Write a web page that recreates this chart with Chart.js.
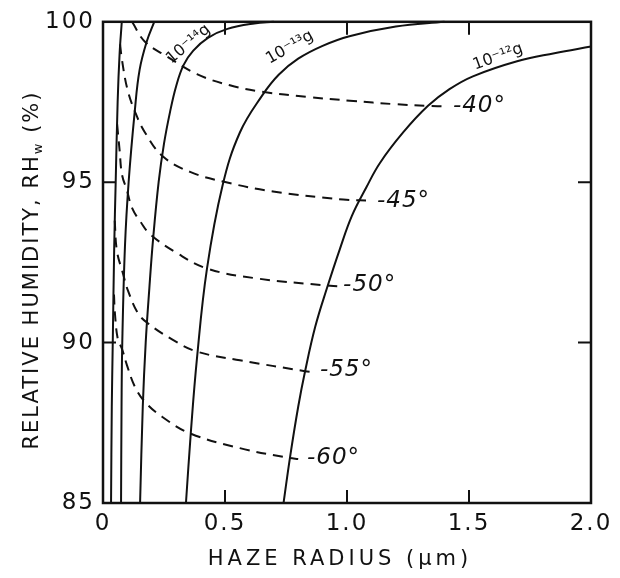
<!DOCTYPE html>
<html>
<head>
<meta charset="utf-8">
<script src="https://cdn.jsdelivr.net/npm/chart.js@4.4.1/dist/chart.umd.min.js"></script>
<style>
  html, body { margin: 0; padding: 0; background: #fff; }
</style>
</head>
<body>
<canvas id="grafico" width="620" height="578"></canvas>
<script>
// ejes
const xTicks = [0, 0.5, 1.0, 1.5, 2.0]
const yTicks = [85, 90, 95, 100]

// curvas de masa (línea continua), radio en µm vs HR %
const m16x = [0.033, 0.036, 0.040, 0.046, 0.052, 0.060, 0.068, 0.077]
const m16y = [85, 88, 90, 93, 95, 97.5, 99, 100]
const m15x = [0.074, 0.076, 0.079, 0.090, 0.105, 0.130, 0.150, 0.180, 0.210]
const m15y = [85, 88, 90, 93, 95, 97.2, 98.5, 99.4, 100]
const m14x = [0.152, 0.163, 0.175, 0.190, 0.205, 0.228, 0.250, 0.275, 0.300, 0.330, 0.370, 0.430, 0.510, 0.620, 0.700]
const m14y = [85, 88, 90, 91.7, 93.2, 95, 96.2, 97.2, 98.0, 98.65, 99.1, 99.5, 99.78, 99.95, 100]
const m13x = [0.34, 0.36, 0.385, 0.426, 0.49, 0.561, 0.652, 0.72, 0.80, 0.90, 1.01, 1.2, 1.4]
const m13y = [85, 87.2, 89.5, 92.3, 94.9, 96.55, 97.7, 98.35, 98.85, 99.25, 99.55, 99.85, 100]
const m12x = [0.74, 0.766, 0.80, 0.828, 0.87, 0.918, 0.97, 1.02, 1.08, 1.135, 1.23, 1.332, 1.42, 1.516, 1.697, 1.85, 2.0]
const m12y = [85, 86.4, 88, 89.1, 90.5, 91.7, 92.9, 93.95, 94.85, 95.6, 96.55, 97.38, 97.9, 98.3, 98.77, 99.02, 99.23]

// isotermas (línea discontinua)
const t40x = [0.119, 0.172, 0.262, 0.385, 0.52, 0.652, 0.836, 1.012, 1.2, 1.332, 1.41]
const t40y = [100, 99.38, 98.92, 98.37, 98.02, 97.82, 97.66, 97.54, 97.43, 97.38, 97.36]
const t45x = [0.07, 0.078, 0.10, 0.131, 0.172, 0.246, 0.357, 0.492, 0.697, 0.984, 1.09]
const t45y = [99.3, 98.8, 97.9, 97.2, 96.55, 95.8, 95.32, 95.02, 94.71, 94.46, 94.43]
const t50x = [0.058, 0.068, 0.078, 0.098, 0.119, 0.155, 0.193, 0.295, 0.426, 0.631, 0.918, 0.96]
const t50y = [96.8, 96.0, 95.23, 94.75, 94.2, 93.75, 93.38, 92.83, 92.31, 92.0, 91.78, 91.76]
const t55x = [0.048, 0.057, 0.082, 0.102, 0.143, 0.184, 0.283, 0.385, 0.561, 0.828, 0.86]
const t55y = [93.8, 92.86, 92.15, 91.63, 90.92, 90.6, 90.1, 89.72, 89.45, 89.11, 89.08]
const t60x = [0.045, 0.049, 0.061, 0.078, 0.098, 0.131, 0.172, 0.242, 0.357, 0.561, 0.766, 0.80]
const t60y = [91.5, 90.9, 90.1, 89.8, 89.3, 88.62, 88.15, 87.69, 87.17, 86.71, 86.4, 86.37]

// etiquetas
const tempLabels = ['-40°', '-45°', '-50°', '-55°', '-60°']
const tempLabelX = [1.434, 1.123, 0.984, 0.889, 0.836]
const tempLabelY = [97.38, 94.42, 91.78, 89.14, 86.4]
const massLabels = ['10⁻¹⁴g', '10⁻¹³g', '10⁻¹²g']
const massLabelX = [0.35, 0.766, 1.619]
const massLabelY = [99.3, 99.2, 98.9]
const massLabelRot = [-40, -30, -20]

const FONT = '"DejaVu Sans", sans-serif'

function puntos(xs, ys) {
    return xs.map((x, i) => ({ x: x, y: ys[i] }))
}

function serie(xs, ys, dashed) {
    return {
        data: puntos(xs, ys),
        borderColor: '#111',
        borderWidth: 2,
        borderDash: dashed ? [10, 7] : [],
        pointRadius: 0,
        fill: false,
        tension: 0.4
    }
}

// marco, marcas hacia dentro, títulos y etiquetas
const extras = {
    id: 'extras',
    beforeDraw(chart) {
        chart.ctx.letterSpacing = '2px'
    },
    afterDatasetsDraw(chart) {
        const ctx = chart.ctx
        const a = chart.chartArea
        const sx = chart.scales.x
        const sy = chart.scales.y
        ctx.save()
        ctx.letterSpacing = '0px'
        ctx.strokeStyle = '#111'
        ctx.lineWidth = 2.5
        ctx.setLineDash([])
        ctx.strokeRect(a.left, a.top, a.right - a.left, a.bottom - a.top)

        ctx.lineWidth = 2
        const len = 13
        xTicks.slice(1, -1).forEach(v => {
            const px = sx.getPixelForValue(v)
            ctx.beginPath()
            ctx.moveTo(px, a.bottom); ctx.lineTo(px, a.bottom - len)
            ctx.moveTo(px, a.top); ctx.lineTo(px, a.top + len)
            ctx.stroke()
        })
        yTicks.slice(1, -1).forEach(v => {
            const py = sy.getPixelForValue(v)
            ctx.beginPath()
            ctx.moveTo(a.left, py); ctx.lineTo(a.left + len, py)
            ctx.moveTo(a.right, py); ctx.lineTo(a.right - len, py)
            ctx.stroke()
        })

        // etiquetas de temperatura
        ctx.fillStyle = '#111'
        ctx.font = 'italic 23px ' + FONT
        ctx.textAlign = 'left'
        ctx.textBaseline = 'middle'
        ctx.letterSpacing = '1px'
        tempLabels.forEach((t, i) => {
            const px = sx.getPixelForValue(tempLabelX[i])
            const py = sy.getPixelForValue(tempLabelY[i])
            ctx.fillStyle = '#fff'
            ctx.fillRect(px - 2, py - 12, ctx.measureText(t).width + 4, 24)
            ctx.fillStyle = '#111'
            ctx.fillText(t, px, py)
        })

        // etiquetas de masa
        ctx.font = '16px ' + FONT
        ctx.textAlign = 'center'
        ctx.letterSpacing = '0px'
        massLabels.forEach((t, i) => {
            const px = sx.getPixelForValue(massLabelX[i])
            const py = sy.getPixelForValue(massLabelY[i])
            ctx.save()
            ctx.translate(px, py)
            ctx.rotate(massLabelRot[i] * Math.PI / 180)
            ctx.fillText(t, 0, 0)
            ctx.restore()
        })
        ctx.restore()
    },
    afterDraw(chart) {
        const ctx = chart.ctx
        ctx.save()
        ctx.fillStyle = '#111'
        ctx.textBaseline = 'middle'
        ctx.textAlign = 'left'

        // título eje y con subíndice
        ctx.letterSpacing = '2px'
        const f1 = '21px ' + FONT
        const f2 = '13px ' + FONT
        const p1 = 'RELATIVE HUMIDITY, RH'
        const p2 = 'w'
        const p3 = ' (%)'
        ctx.font = f1
        const w1 = ctx.measureText(p1).width
        const w3 = ctx.measureText(p3).width
        ctx.font = f2
        const w2 = ctx.measureText(p2).width
        const total = w1 + w2 + w3
        ctx.translate(33, 270)
        ctx.rotate(-Math.PI / 2)
        let x0 = -total / 2
        ctx.font = f1
        ctx.fillText(p1, x0, 0)
        ctx.font = f2
        ctx.fillText(p2, x0 + w1, 6)
        ctx.font = f1
        ctx.fillText(p3, x0 + w1 + w2, 0)
        ctx.setTransform(1, 0, 0, 1, 0, 0)

        // título eje x
        ctx.letterSpacing = '4px'
        ctx.font = '21px ' + FONT
        ctx.textAlign = 'center'
        ctx.fillText('HAZE RADIUS (μm)', 340, 560)
        ctx.restore()
        ctx.letterSpacing = '0px'
    }
}

const ctx = document.querySelector('#grafico').getContext('2d')
new Chart(ctx, {
    type: 'line',
    data: {
        datasets: [
            serie(m16x, m16y, false),
            serie(m15x, m15y, false),
            serie(m14x, m14y, false),
            serie(m13x, m13y, false),
            serie(m12x, m12y, false),
            serie(t40x, t40y, true),
            serie(t45x, t45y, true),
            serie(t50x, t50y, true),
            serie(t55x, t55y, true),
            serie(t60x, t60y, true)
        ]
    },
    options: {
        responsive: false,
        animation: false,
        clip: false,
        layout: { padding: { top: 15, right: 29, left: 0, bottom: 0 } },
        plugins: { legend: { display: false }, tooltip: { enabled: false } },
        scales: {
            x: {
                type: 'linear',
                min: 0,
                max: 2,
                afterBuildTicks: s => { s.ticks = xTicks.map(v => ({ value: v })) },
                afterFit: s => { s.height = 75 },
                grid: { display: false, drawTicks: false },
                border: { display: false },
                ticks: {
                    color: '#111',
                    font: { size: 23, family: FONT },
                    padding: 7,
                    maxRotation: 0,
                    callback: v => v === 0 ? '0' : v.toFixed(1)
                }
            },
            y: {
                type: 'linear',
                min: 85,
                max: 100,
                afterBuildTicks: s => { s.ticks = yTicks.map(v => ({ value: v })) },
                afterFit: s => { s.width = 103 },
                grid: { display: false, drawTicks: false },
                border: { display: false },
                ticks: {
                    color: '#111',
                    font: { size: 23, family: FONT },
                    padding: 8,
                    callback: v => String(v)
                }
            }
        }
    },
    plugins: [extras]
})
</script>
</body>
</html>
